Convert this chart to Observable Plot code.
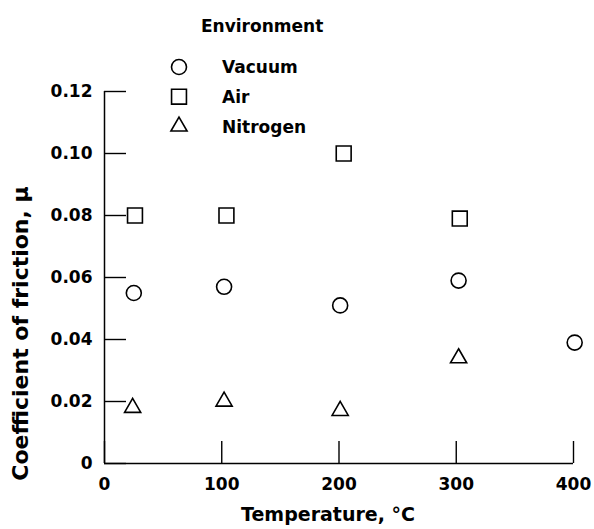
<!DOCTYPE html>
<html>
<head>
<meta charset="utf-8">
<script src="https://cdn.jsdelivr.net/npm/d3@7"></script>
<script src="https://cdn.jsdelivr.net/npm/@observablehq/plot@0.6"></script>
<style>
  html, body { margin: 0; padding: 0; background: white; }
  #wrap { position: relative; width: 594px; height: 529px; }
  #legend { position: absolute; left: 0; top: 0; }
</style>
</head>
<body>
<div id="wrap"></div>
<script>
// ---- data ----
const xTicks = [0, 100, 200, 300, 400];
const yTicks = [0, 0.02, 0.04, 0.06, 0.08, 0.10, 0.12];
const seriesNames = ["Vacuum", "Air", "Nitrogen"];
const vacuumTemp = [25, 102, 201, 302, 401];
const vacuumMu   = [0.055, 0.057, 0.051, 0.059, 0.039];
const airTemp    = [26, 104, 204, 303];
const airMu      = [0.080, 0.080, 0.100, 0.079];
const nitrogenTemp = [24, 102, 201, 302];
const nitrogenMu   = [0.018, 0.020, 0.017, 0.034];
const xLabel = "Temperature, °C";
const yLabel = "Coefficient of friction, μ";
const legendTitle = "Environment";

const toRows = (t, m) => t.map((x, i) => ({temp: x, mu: m[i]}));
const vacuum = toRows(vacuumTemp, vacuumMu);
const air = toRows(airTemp, airMu);
const nitrogen = toRows(nitrogenTemp, nitrogenMu);

const symStyle = {
  Vacuum:   {symbol: "circle",   r: 7.5},
  Air:      {symbol: "square",   r: 8.4},
  Nitrogen: {symbol: "triangle", r: 6.0}
};
const FONT = "DejaVu Sans";

const chart = Plot.plot({
  width: 594,
  height: 529,
  marginLeft: 104,
  marginRight: 21,
  marginTop: 91,
  marginBottom: 66,
  style: {fontFamily: FONT, fontSize: "17px", fontWeight: "bold", color: "black", background: "white", overflow: "visible"},
  x: {domain: [0, 400]},
  y: {domain: [0, 0.12]},
  marks: [
    Plot.ruleY([0], {stroke: "black", strokeWidth: 1.5}),
    Plot.ruleX([0], {stroke: "black", strokeWidth: 1.5}),
    Plot.axisX(xTicks, {anchor: "bottom", tickSize: -22, tickPadding: 36, tickFormat: d => String(d), label: null, strokeWidth: 1.4, fontSize: 17}),
    Plot.axisY(yTicks, {anchor: "left", tickSize: -22, tickPadding: 34, tickFormat: d => d === 0 ? "0" : d.toFixed(2), label: null, strokeWidth: 1.4, fontSize: 17}),
    Plot.dot(vacuum, {x: "temp", y: "mu", symbol: symStyle.Vacuum.symbol, r: symStyle.Vacuum.r, stroke: "black", fill: "none", strokeWidth: 1.6}),
    Plot.dot(air, {x: "temp", y: "mu", symbol: symStyle.Air.symbol, r: symStyle.Air.r, stroke: "black", fill: "none", strokeWidth: 1.6}),
    Plot.dot(nitrogen, {x: "temp", y: "mu", symbol: symStyle.Nitrogen.symbol, r: symStyle.Nitrogen.r, stroke: "black", fill: "none", strokeWidth: 1.6}),
    Plot.text([xLabel], {frameAnchor: "bottom", textAnchor: "middle", lineAnchor: "middle", dx: -11, dy: 51, fontSize: 19, fontWeight: "bold", fill: "black"}),
    Plot.text([yLabel], {frameAnchor: "left", textAnchor: "middle", lineAnchor: "middle", rotate: -90, dx: -84, dy: 56, fontSize: 22, fontWeight: "bold", fill: "black"})
  ]
});
document.getElementById("wrap").appendChild(chart);

// ---- legend (overlay) ----
const lg = d3.select("#wrap").append("svg")
  .attr("id", "legend").attr("width", 594).attr("height", 140)
  .style("font-family", FONT).style("font-size", "17px").style("font-weight", "bold");
lg.append("text").attr("x", 201).attr("y", 32).text(legendTitle);
const symMap = {circle: d3.symbolCircle, square: d3.symbolSquare, triangle: d3.symbolTriangle};
seriesNames.forEach((name, i) => {
  const cy = 67 + i * 29.7;
  const s = symStyle[name];
  lg.append("path")
    .attr("d", d3.symbol(symMap[s.symbol], Math.PI * s.r * s.r)())
    .attr("transform", `translate(179,${cy})`)
    .attr("fill", "none").attr("stroke", "black").attr("stroke-width", 1.6);
  lg.append("text").attr("x", 222).attr("y", cy).attr("dy", "0.36em").text(name);
});
</script>
</body>
</html>
